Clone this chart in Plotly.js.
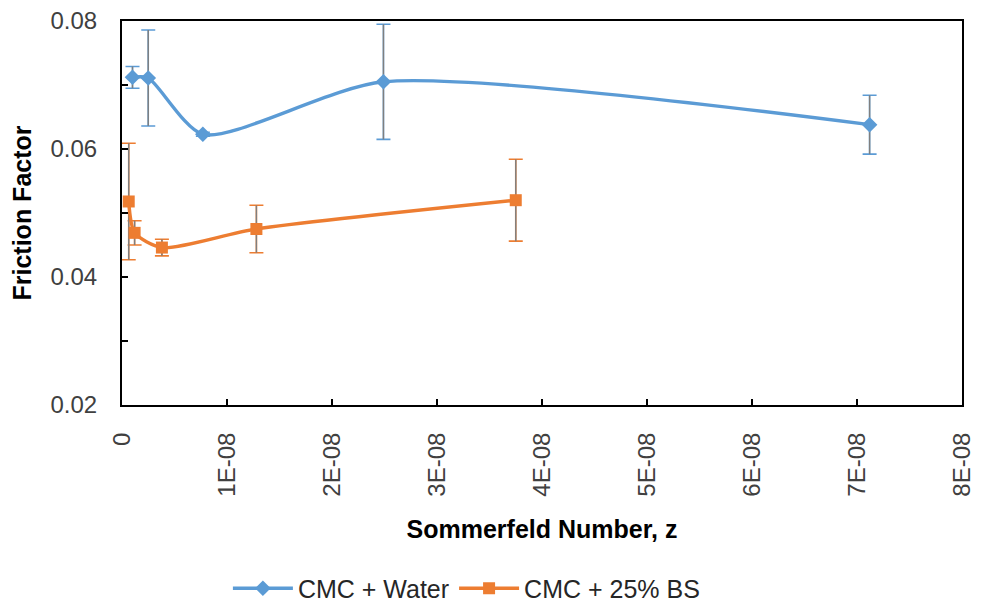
<!DOCTYPE html>
<html>
<head>
<meta charset="utf-8">
<script src="https://cdn.plot.ly/plotly-3.0.1.min.js"></script>
<style>
html,body{margin:0;padding:0;background:#fff;}
#chart{width:982px;height:603px;}
</style>
</head>
<body>
<div id="chart"></div>
<script>
// Data
const waterZ = [1.0e-9, 2.5e-9, 7.7e-9, 2.49e-8, 7.12e-8];
const waterF = [0.0712, 0.0711, 0.0623, 0.0705, 0.0638];
const waterErr = [0.0017, 0.0075, 0.0003, 0.0090, 0.0046];

const bsZ = [0.64e-9, 1.2e-9, 3.8e-9, 1.28e-8, 3.75e-8];
const bsF = [0.0518, 0.0469, 0.0446, 0.0475, 0.0520];
const bsErr = [0.0091, 0.0019, 0.0013, 0.0037, 0.0064];

const xTickVals = [0, 1e-8, 2e-8, 3e-8, 4e-8, 5e-8, 6e-8, 7e-8, 8e-8];
const xTickText = ['0', '1E-08', '2E-08', '3E-08', '4E-08', '5E-08', '6E-08', '7E-08', '8E-08'];
const yTickVals = [0.02, 0.03, 0.04, 0.05, 0.06, 0.07, 0.08];
const yTickText = ['0.02', '', '0.04', '', '0.06', '', '0.08'];

const blue = '#5B9BD5';
const orange = '#ED7D31';
const gray = '#7F7F7F';
const FONT = 'Liberation Sans, Arial, sans-serif';

function capTrace(x, y, e, color) {
  return {x: x, y: y, type: 'scatter', mode: 'markers', showlegend: false, hoverinfo: 'skip',
    marker: {size: 1, opacity: 0},
    error_y: {type: 'data', array: e, visible: true, color: color, thickness: 1.6, width: 7}};
}
function stemTrace(x, y, e) {
  return {x: x, y: y, type: 'scatter', mode: 'markers', showlegend: false, hoverinfo: 'skip',
    marker: {size: 1, opacity: 0},
    error_y: {type: 'data', array: e, visible: true, color: gray, thickness: 1.4, width: 0}};
}

const traces = [
  capTrace(waterZ, waterF, waterErr, blue),
  stemTrace(waterZ, waterF, waterErr),
  capTrace(bsZ, bsF, bsErr, orange),
  stemTrace(bsZ, bsF, bsErr),
  {x: waterZ, y: waterF, type: 'scatter', mode: 'lines+markers', name: 'CMC + Water',
   line: {color: blue, width: 3.4, shape: 'spline', smoothing: 0.7},
   marker: {symbol: 'diamond', size: 12, color: blue}},
  {x: bsZ, y: bsF, type: 'scatter', mode: 'lines+markers', name: 'CMC + 25% BS',
   line: {color: orange, width: 3.4, shape: 'spline', smoothing: 0.7},
   marker: {symbol: 'square', size: 12, color: orange}}
];

const layout = {
  width: 982, height: 603,
  margin: {l: 122, r: 20, t: 21, b: 198},
  paper_bgcolor: '#fff', plot_bgcolor: '#fff',
  font: {family: FONT, size: 24, color: '#404040'},
  showlegend: true,
  legend: {orientation: 'h', xref: 'paper', x: 0.41, xanchor: 'center',
    yref: 'container', y: 0.024, yanchor: 'middle',
    font: {family: FONT, size: 25, color: '#262626'}, itemwidth: 60, traceorder: 'normal'},
  xaxis: {
    range: [0, 8e-8], tickmode: 'array', tickvals: xTickVals, ticktext: xTickText,
    tickangle: -90, ticks: 'inside', ticklen: 6, tickwidth: 1.5, tickcolor: '#000',
    ticklabelstandoff: 16, automargin: false,
    showline: true, linecolor: '#000', linewidth: 2, mirror: true,
    showgrid: false, zeroline: false,
    tickfont: {family: FONT, size: 24, color: '#404040'},
    title: {text: 'Sommerfeld Number, z', standoff: 25,
      font: {family: FONT, size: 25, color: '#000', weight: 'bold'}}
  },
  yaxis: {
    range: [0.02, 0.08], tickmode: 'array', tickvals: yTickVals, ticktext: yTickText,
    ticks: 'inside', ticklen: 6, tickwidth: 1.5, tickcolor: '#000',
    ticklabelstandoff: 18, automargin: false,
    showline: true, linecolor: '#000', linewidth: 2, mirror: true,
    showgrid: false, zeroline: false,
    tickfont: {family: FONT, size: 24, color: '#404040'},
    title: {text: 'Friction Factor', standoff: 12,
      font: {family: FONT, size: 25, color: '#000', weight: 'bold'}}
  }
};

Plotly.newPlot('chart', traces, layout, {staticPlot: true, displayModeBar: false});
</script>
</body>
</html>
